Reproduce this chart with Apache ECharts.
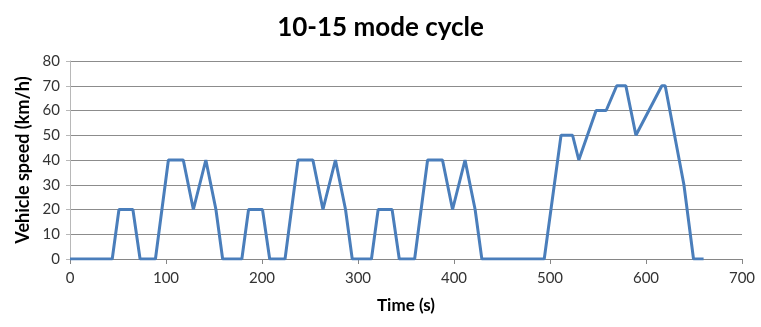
<!DOCTYPE html>
<html>
<head>
<meta charset="utf-8">
<script src="https://cdn.jsdelivr.net/npm/echarts@6/dist/echarts.min.js"></script>
<style>html,body{margin:0;padding:0;background:#fff;}#c{width:761px;height:327px;}</style>
</head>
<body>
<div id="c"></div>
<script>
// Time (s) and speed (km/h) at the corners of the drive cycle
const timeS = [0, 44, 51, 65.5, 73, 89, 102.5, 118, 128.5, 141.5, 152, 159,
  179, 186, 200.5, 208, 224, 237.5, 253, 263.5, 276.5, 287, 294,
  314, 321, 335.5, 343, 359, 372.5, 388, 398.5, 411.5, 422, 429,
  494, 511.5, 523.5, 530, 548, 558.5, 569.5, 579, 589.5, 616.5, 620, 639.5, 649.5, 660];
const speedKmh = [0, 0, 20, 20, 0, 0, 40, 40, 20, 40, 20, 0,
  0, 20, 20, 0, 0, 40, 40, 20, 40, 20, 0,
  0, 20, 20, 0, 0, 40, 40, 20, 40, 20, 0,
  0, 50, 50, 40, 60, 60, 70, 70, 50, 70, 70, 30, 0, 0];
const xTicks = [0, 100, 200, 300, 400, 500, 600, 700];
const yTicks = [0, 10, 20, 30, 40, 50, 60, 70, 80];

const chart = echarts.init(document.getElementById('c'), null, {renderer: 'canvas'});
const fam = 'Lato, "Open Sans", sans-serif';
chart.setOption({
  animation: false,
  title: {
    text: '10-15 mode cycle', left: 'center', top: 10,
    textStyle: {fontFamily: fam, fontWeight: 'bold', fontSize: 26, color: '#000'}
  },
  grid: {left: 70, right: 19, top: 61, bottom: 68},
  xAxis: {
    type: 'value', min: xTicks[0], max: xTicks[xTicks.length - 1], interval: 100,
    name: 'Time (s)', nameLocation: 'middle', nameGap: 38,
    nameTextStyle: {fontFamily: fam, fontWeight: 'bold', fontSize: 17, color: '#000'},
    axisLine: {show: true, lineStyle: {color: '#868686', width: 1}},
    axisTick: {show: true, length: 5, lineStyle: {color: '#868686'}},
    axisLabel: {fontFamily: fam, fontSize: 15, color: '#333', margin: 12},
    splitLine: {show: false}
  },
  yAxis: {
    type: 'value', min: yTicks[0], max: yTicks[yTicks.length - 1], interval: 10,
    name: 'Vehicle speed (km/h)', nameLocation: 'middle', nameGap: 36, nameRotate: 90,
    nameTextStyle: {fontFamily: fam, fontWeight: 'bold', fontSize: 18, color: '#000'},
    axisLine: {show: true, lineStyle: {color: '#b8b8b8', width: 1}},
    axisTick: {show: true, length: 4, lineStyle: {color: '#b8b8b8'}},
    axisLabel: {fontFamily: fam, fontSize: 15, color: '#333', margin: 10},
    splitLine: {show: true, lineStyle: {color: '#8c8c8c', width: 1}}
  },
  series: [{
    type: 'line',
    data: timeS.map((t, i) => [t, speedKmh[i]]),
    showSymbol: false, symbol: 'none',
    lineStyle: {color: '#4a7ebb', width: 3},
    z: 5
  }]
});
</script>
</body>
</html>
